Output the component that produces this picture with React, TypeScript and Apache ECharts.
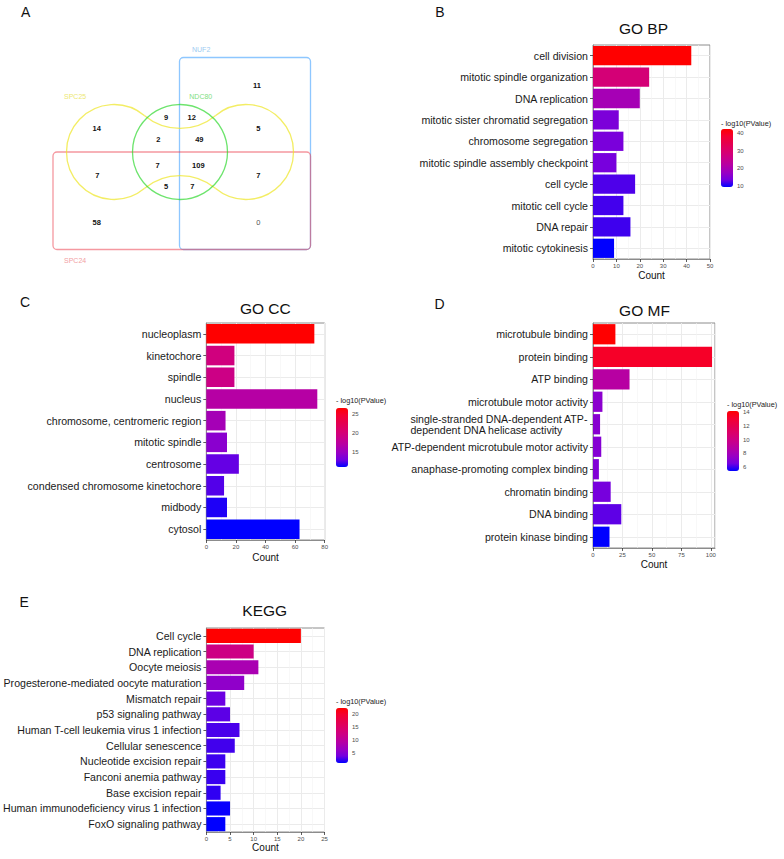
import { useEffect, useRef } from "react";
import * as echarts from "echarts";

const FONT = "'Liberation Sans', Arial, Helvetica, sans-serif";
// ggplot-like blue -> red gradient (Lab interpolation sampled)
const GRADIENT = ["#0000FF", "#7300E0", "#9A00C3", "#B500A5", "#CA0089", "#DA006C", "#E5004E", "#F40031", "#FF0000"];

// ---------------- Data ----------------
const bpCategories = [
  "cell division",
  "mitotic spindle organization",
  "DNA replication",
  "mitotic sister chromatid segregation",
  "chromosome segregation",
  "mitotic spindle assembly checkpoint",
  "cell cycle",
  "mitotic cell cycle",
  "DNA repair",
  "mitotic cytokinesis",
];
const bpCounts = [42, 24, 20, 11, 13, 10, 18, 13, 16, 9];
const bpLogP = [42.3, 28.5, 19.5, 14.5, 14.2, 14.0, 12.2, 11.8, 11.6, 9.4];
const bpTicks = [0, 10, 20, 30, 40, 50];

const ccCategories = [
  "nucleoplasm",
  "kinetochore",
  "spindle",
  "nucleus",
  "chromosome, centromeric region",
  "mitotic spindle",
  "centrosome",
  "condensed chromosome kinetochore",
  "midbody",
  "cytosol",
];
const ccCounts = [73, 19, 19, 75, 13, 14, 22, 12, 14, 63];
const ccLogP = [26.5, 19.5, 19.0, 16.9, 15.7, 14.1, 12.7, 12.4, 11.5, 11.0];
const ccTicks = [0, 20, 40, 60, 80];

const mfCategories = [
  "microtubule binding",
  "protein binding",
  "ATP binding",
  "microtubule motor activity",
  "single-stranded DNA-dependent ATP-\ndependent DNA helicase activity",
  "ATP-dependent microtubule motor activity",
  "anaphase-promoting complex binding",
  "chromatin binding",
  "DNA binding",
  "protein kinase binding",
];
const mfCounts = [19, 101, 31, 8, 6, 7, 5, 15, 24, 14];
const mfLogP = [14.2, 13.3, 8.8, 7.2, 7.1, 7.0, 6.9, 6.6, 6.3, 5.4];
const mfTicks = [0, 25, 50, 75, 100];

const keggCategories = [
  "Cell cycle",
  "DNA replication",
  "Oocyte meiosis",
  "Progesterone-mediated oocyte maturation",
  "Mismatch repair",
  "p53 signaling pathway",
  "Human T-cell leukemia virus 1 infection",
  "Cellular senescence",
  "Nucleotide excision repair",
  "Fanconi anemia pathway",
  "Base excision repair",
  "Human immunodeficiency virus 1 infection",
  "FoxO signaling pathway",
];
const keggCounts = [20, 10, 11, 8, 4, 5, 7, 6, 4, 4, 3, 5, 4];
const keggLogP = [22.4, 12.3, 8.1, 5.9, 3.8, 3.4, 3.0, 2.8, 2.7, 2.6, 2.4, 1.5, 1.3];
const keggTicks = [0, 5, 10, 15, 20, 25];

const vennSetNames = ["SPC25", "NDC80", "NUF2", "SPC24"];
const vennRegionCounts = [11, 14, 9, 12, 5, 2, 49, 7, 109, 7, 7, 5, 7, 58, 0];

const legendTitle = "- log10(PValue)";
const xAxisTitle = "Count";

// ---------------- Layout ----------------
const vennRegionPos = [
  [257, 85.7], [96.7, 128.7], [166, 117.7], [191.7, 117.7], [258.3, 128.7],
  [158.3, 139], [199.3, 139], [157.7, 165], [198.3, 165], [97.3, 175.7],
  [258.3, 175.7], [166, 186], [192.3, 186], [96.7, 222.7], [258.3, 222.7],
];

type Panel = {
  cats: string[];
  counts: number[];
  logp: number[];
  ticks: number[];
  xMax: number;
  grid: { left: number; top: number; width: number; height: number };
  legend: { left: number; top: number; width: number; height: number; titleY: number };
  splitNumber: number;
  title: { x: number; y: number; text: string };
  letter: { x: number; y: number; text: string };
  nameGap: number;
};

const panels: Panel[] = [
  {
    cats: bpCategories, counts: bpCounts, logp: bpLogP, ticks: bpTicks, xMax: 50,
    grid: { left: 593, top: 45, width: 117, height: 214 },
    legend: { left: 721, top: 129, width: 12, height: 58, titleY: 123 },
    splitNumber: 3,
    title: { x: 643.5, y: 28.7, text: "GO BP" },
    letter: { x: 440, y: 12, text: "B" },
    nameGap: 11,
  },
  {
    cats: ccCategories, counts: ccCounts, logp: ccLogP, ticks: ccTicks, xMax: 80,
    grid: { left: 206.3, top: 323, width: 118.4, height: 217 },
    legend: { left: 336, top: 408, width: 12, height: 59, titleY: 400 },
    splitNumber: 3,
    title: { x: 265.3, y: 308.7, text: "GO CC" },
    letter: { x: 25, y: 302.3, text: "C" },
    nameGap: 12,
  },
  {
    cats: mfCategories, counts: mfCounts, logp: mfLogP, ticks: mfTicks, xMax: 103.5,
    grid: { left: 593, top: 323, width: 122, height: 225 },
    legend: { left: 727, top: 411, width: 12, height: 60, titleY: 404 },
    splitNumber: 4,
    title: { x: 644.5, y: 310, text: "GO MF" },
    letter: { x: 439.5, y: 303.7, text: "D" },
    nameGap: 11,
  },
  {
    cats: keggCategories, counts: keggCounts, logp: keggLogP, ticks: keggTicks, xMax: 25,
    grid: { left: 206, top: 628, width: 118.5, height: 204 },
    legend: { left: 336, top: 708, width: 12, height: 55, titleY: 701.7 },
    splitNumber: 4,
    title: { x: 264.7, y: 610.8, text: "KEGG" },
    letter: { x: 24.2, y: 602, text: "E" },
    nameGap: 10,
  },
];

function buildVenn(): any[] {
  const els: any[] = [];
  const r = 47.5;
  const cy = 152;
  const cxL = 114, cxG = 180, cxR = 246;
  const bR = 55.9, topBy = 72.4, botBy = 231.6;
  const phi = Math.atan2(cy - topBy, cxG - cxL);
  const yellow = "rgba(238,230,40,0.72)";
  const green = "rgba(40,215,40,0.68)";
  const lw = 1.3;
  // rectangles
  els.push({
    type: "rect",
    shape: { x: 179.5, y: 57.5, width: 131, height: 192, r: 4 },
    style: { fill: "none", stroke: "rgba(30,144,255,0.5)", lineWidth: lw },
  });
  els.push({
    type: "rect",
    shape: { x: 53, y: 152, width: 257.5, height: 97.5, r: 4 },
    style: { fill: "none", stroke: "rgba(235,50,65,0.5)", lineWidth: lw },
  });
  // SPC25 dumbbell shape
  const arcs = [
    { cx: cxL, cy, r, s: phi, e: 2 * Math.PI - phi },
    { cx: cxR, cy, r, s: -(Math.PI - phi), e: Math.PI - phi },
    { cx: cxG, cy: topBy, r: bR, s: phi, e: Math.PI - phi },
    { cx: cxG, cy: botBy, r: bR, s: -(Math.PI - phi), e: -phi },
  ];
  arcs.forEach((a) =>
    els.push({
      type: "arc",
      shape: { cx: a.cx, cy: a.cy, r: a.r, startAngle: a.s, endAngle: a.e, clockwise: true },
      style: { fill: "none", stroke: yellow, lineWidth: lw },
    })
  );
  els.push({
    type: "circle",
    shape: { cx: cxG, cy, r },
    style: { fill: "none", stroke: green, lineWidth: lw },
  });
  // set names
  const namePos = [
    { x: 64, y: 96, c: "#EDE873" },
    { x: 189.3, y: 96, c: "#7FE07F" },
    { x: 192, y: 49.3, c: "#9CCBF2" },
    { x: 64, y: 260, c: "#F2A0A4" },
  ];
  vennSetNames.forEach((n, i) =>
    els.push({
      type: "text",
      x: namePos[i].x,
      y: namePos[i].y,
      style: {
        text: n, fill: namePos[i].c, fontSize: 7, fontFamily: FONT,
        align: "left", verticalAlign: "middle",
      },
    })
  );
  vennRegionCounts.forEach((v, i) =>
    els.push({
      type: "text",
      x: vennRegionPos[i][0],
      y: vennRegionPos[i][1],
      style: {
        text: String(v), fill: v === 0 ? "#555" : "#111", fontSize: 7.5,
        fontWeight: v === 0 ? "normal" : "bold", fontFamily: FONT,
        align: "center", verticalAlign: "middle",
      },
    })
  );
  els.push({
    type: "text", x: 25.7, y: 11.7,
    style: { text: "A", fill: "#111", fontSize: 14, fontFamily: FONT, align: "center", verticalAlign: "middle" },
  });
  return els;
}

function buildOption() {
  const grid: any[] = [];
  const xAxis: any[] = [];
  const yAxis: any[] = [];
  const series: any[] = [];
  const visualMap: any[] = [];
  const graphics: any[] = buildVenn();

  panels.forEach((p, i) => {
    const g = p.grid;
    grid.push({
      left: g.left, top: g.top, width: g.width, height: g.height,
      show: true, borderColor: "#8C8C8C", borderWidth: 1, backgroundColor: "transparent",
      containLabel: false,
    });
    const lg = p.legend;
    grid.push({ left: lg.left, top: lg.top, width: lg.width, height: lg.height, show: false });

    const interval = p.ticks[1] - p.ticks[0];
    xAxis.push({
      type: "value", gridIndex: 2 * i, min: 0, max: p.xMax, interval,
      axisLine: { show: true, lineStyle: { color: "#8C8C8C", width: 1 } },
      axisTick: { show: true, length: 3, lineStyle: { color: "#333", width: 0.8 } },
      axisLabel: {
        fontSize: 6, color: "#4D4D4D", margin: 4, fontFamily: FONT,
        showMaxLabel: p.ticks[p.ticks.length - 1] === p.xMax,
      },
      splitLine: { show: true, lineStyle: { color: "#EBEBEB", width: 1 } },
      minorTick: { show: false, splitNumber: 2 },
      minorSplitLine: { show: true, lineStyle: { color: "#F3F3F3", width: 0.6 } },
      name: xAxisTitle, nameLocation: "middle", nameGap: p.nameGap,
      nameTextStyle: { fontSize: 10, color: "#111", fontFamily: FONT },
    });
    xAxis.push({ type: "value", gridIndex: 2 * i + 1, show: false, min: 0, max: 1 });

    yAxis.push({
      type: "category", gridIndex: 2 * i, data: p.cats, inverse: true,
      axisLine: { show: true, lineStyle: { color: "#8C8C8C", width: 1 } },
      axisTick: { show: true, alignWithLabel: true, length: 3, lineStyle: { color: "#333", width: 0.8 } },
      axisLabel: {
        interval: 0, fontSize: 10.6, color: "#1A1A1A", margin: 5, fontFamily: FONT,
        formatter: (v: string) =>
          v.indexOf("\n") >= 0 ? v.split("\n").map((l) => "{l|" + l + "}").join("\n") : v,
        rich: { l: { align: "left", fontSize: 10.6, color: "#1A1A1A", lineHeight: 11.5, fontFamily: FONT } },
      },
      splitLine: { show: true, alignWithLabel: true, lineStyle: { color: "#EBEBEB", width: 1 } },
    });
    const pmin = Math.min(...p.logp);
    const pmax = Math.max(...p.logp);
    yAxis.push({
      type: "value", gridIndex: 2 * i + 1, min: pmin, max: pmax, splitNumber: p.splitNumber,
      position: "right", z: 10,
      axisLine: { show: false },
      axisTick: { show: true, inside: true, length: 2.5, lineStyle: { color: "#fff", width: 0.8 } },
      axisLabel: {
        show: true, fontSize: 6, color: "#4D4D4D", margin: 4, fontFamily: FONT,
        showMinLabel: false, showMaxLabel: false,
      },
      splitLine: { show: false },
    });

    series.push({
      type: "bar",
      xAxisIndex: 2 * i,
      yAxisIndex: 2 * i,
      data: p.cats.map((c, j) => [p.counts[j], c, p.logp[j]]),
      encode: { x: 0, y: 1 },
      barCategoryGap: "10%",
      z: 3,
    });

    visualMap.push({
      type: "continuous",
      seriesIndex: i,
      dimension: 2,
      min: pmin,
      max: pmax,
      inRange: { color: GRADIENT },
      show: true,
      calculable: false,
      hoverLink: false,
      orient: "vertical",
      left: lg.left,
      top: lg.top,
      itemWidth: lg.width,
      itemHeight: lg.height,
      padding: 0,
      text: null,
    });

    graphics.push({
      type: "text", x: p.title.x, y: p.title.y,
      style: { text: p.title.text, fill: "#111", fontSize: 15.5, fontFamily: FONT, align: "center", verticalAlign: "middle" },
    });
    graphics.push({
      type: "text", x: p.letter.x, y: p.letter.y,
      style: { text: p.letter.text, fill: "#111", fontSize: 14, fontFamily: FONT, align: "center", verticalAlign: "middle" },
    });
    graphics.push({
      type: "text", x: lg.left, y: lg.titleY,
      style: { text: legendTitle, fill: "#222", fontSize: 7.3, fontFamily: FONT, align: "left", verticalAlign: "middle" },
    });
  });

  return {
    animation: false,
    backgroundColor: "#ffffff",
    textStyle: { fontFamily: FONT },
    grid,
    xAxis,
    yAxis,
    series,
    visualMap,
    graphic: { elements: graphics },
  };
}

export default function App() {
  const ref = useRef<HTMLDivElement>(null);
  useEffect(() => {
    if (!ref.current) return;
    const chart = echarts.init(ref.current, undefined, { renderer: "svg" });
    chart.setOption(buildOption() as any);
    return () => chart.dispose();
  }, []);
  return (
    <div
      ref={ref}
      style={{ position: "absolute", left: 0, top: 0, width: 784, height: 859, background: "#fff" }}
    />
  );
}
